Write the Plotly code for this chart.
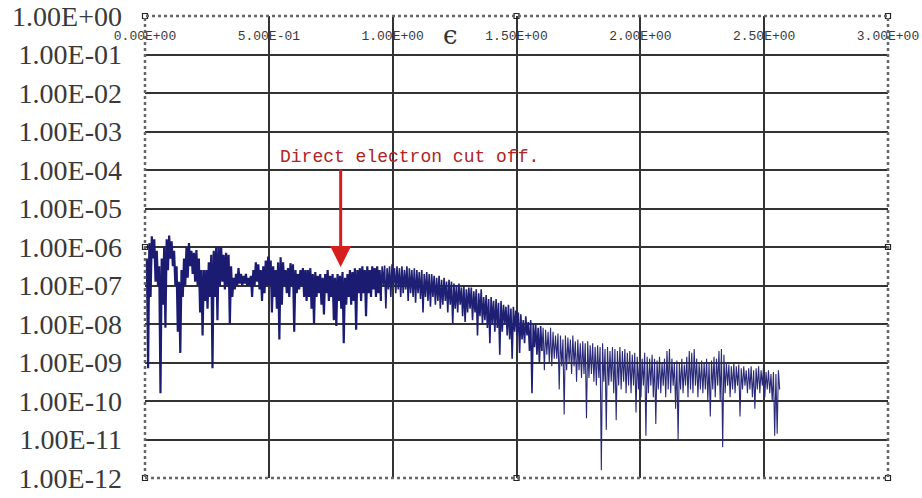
import plotly.graph_objects as go

# ---- data read off the picture (log10 of the signal, sampled every 0.01 in epsilon) ----
# each sample k (epsilon = 0.01*k) holds an upper and a lower excursion of the fast oscillation
HI = [-6.3, -5.9, -5.72, -5.8, -6.1, -6.5, -6.3, -6.0, -5.8, -5.7,
      -5.85, -6.1, -6.5, -6.9, -6.6, -6.3, -6.0, -5.9, -6.1, -6.15,
      -6.08, -6.3, -6.6, -6.6, -6.6, -6.4, -6.2, -6.1, -6.0, -5.98,
      -6.0, -6.2, -6.15, -6.2, -6.5, -6.8, -6.7, -6.55, -6.7, -6.75,
      -6.7, -6.8, -6.75, -6.6, -6.4, -6.45, -6.6, -6.5, -6.35, -6.25,
      -6.35, -6.5, -6.6, -6.4, -6.27, -6.4, -6.6, -6.55, -6.42, -6.45,
      -6.6, -6.7, -6.6, -6.55, -6.6, -6.6, -6.55, -6.7, -6.65, -6.75,
      -6.7, -6.8, -6.7, -6.6, -6.75, -6.7, -6.8, -6.7, -6.75, -6.65,
      -6.8, -6.7, -6.6, -6.65, -6.55, -6.6, -6.55, -6.5, -6.6, -6.5,
      -6.6, -6.5, -6.55, -6.5, -6.6, -6.5, -6.48, -6.55, -6.5, -6.45,
      -6.55, -6.5, -6.55, -6.5, -6.6, -6.5, -6.55, -6.6, -6.55, -6.6,
      -6.65, -6.6, -6.7, -6.65, -6.7, -6.7, -6.75, -6.8, -6.75, -6.85,
      -6.8, -6.9, -6.85, -6.9, -6.95, -7.0, -6.95, -7.05, -7.0, -7.1,
      -7.05, -7.05, -7.15, -7.1, -7.2, -7.1, -7.3, -7.25, -7.35, -7.3,
      -7.4, -7.35, -7.45, -7.4, -7.5, -7.55, -7.5, -7.6, -7.55, -7.65,
      -7.7, -7.75, -7.9, -7.8, -7.95, -7.9, -8.0, -8.0, -8.1, -8.05,
      -8.1, -8.15, -8.2, -8.1, -8.2, -8.3, -8.25, -8.3, -8.4, -8.3,
      -8.35, -8.4, -8.3, -8.45, -8.4, -8.5, -8.45, -8.5, -8.45, -8.55,
      -8.5, -8.6, -8.55, -8.6, -8.5, -8.65, -8.6, -8.7, -8.6, -8.65,
      -8.7, -8.6, -8.7, -8.65, -8.75, -8.7, -8.8, -8.75, -8.85, -8.8,
      -8.9, -8.75, -8.85, -8.9, -8.8, -8.9, -8.95, -8.85, -9.0, -8.9,
      -8.7, -8.65, -8.9, -9.0, -8.95, -9.0, -8.9, -9.05, -8.85, -8.7,
      -8.75, -8.65, -8.9, -9.0, -8.95, -9.0, -8.9, -9.0, -8.95, -8.85,
      -8.9, -8.7, -8.65, -8.8, -9.0, -9.05, -9.1, -9.0, -9.1, -9.05,
      -9.15, -9.1, -9.2, -9.15, -9.1, -9.2, -9.15, -9.1, -9.2, -9.1,
      -9.25, -9.2, -9.3, -9.25, -9.3, -9.2]
LO = [-9.15, -7.3, -6.3, -6.9, -7.0, -9.8, -7.5, -8.1, -6.6, -6.3,
      -6.5, -7.0, -8.2, -8.75, -7.3, -7.0, -6.8, -6.5, -6.7, -6.9,
      -7.0, -7.7, -8.3, -7.4, -7.6, -7.3, -9.15, -7.3, -7.9, -7.0,
      -6.9, -7.1, -7.0, -8.0, -7.3, -7.1, -7.0, -6.95, -7.0, -6.95,
      -7.0, -7.0, -7.3, -7.0, -6.9, -7.1, -7.4, -7.2, -7.0, -7.0,
      -7.7, -7.3, -7.6, -8.4, -7.5, -7.0, -7.2, -7.3, -7.0, -8.2,
      -7.2, -7.1, -7.0, -7.3, -7.4, -7.3, -7.6, -8.0, -7.3, -7.2,
      -7.5, -7.75, -7.2, -7.4, -7.3, -7.9, -8.05, -7.4, -7.6, -8.5,
      -7.5, -7.3, -7.5, -7.4, -8.15, -7.2, -7.4, -7.2, -7.8, -7.2,
      -7.3, -7.1, -7.3, -7.2, -7.4, -7.0, -7.6, -7.1, -7.3, -7.0,
      -7.2, -7.1, -7.3, -7.2, -7.1, -7.4, -7.2, -7.3, -7.45, -7.2,
      -7.35, -7.7, -7.3, -7.4, -7.55, -7.3, -7.5, -7.4, -7.6, -7.5,
      -7.4, -7.7, -7.5, -8.0, -7.6, -7.7, -7.5, -7.8, -7.95, -7.7,
      -7.6, -7.9, -7.7, -8.3, -7.8, -8.0, -7.9, -8.1, -8.5, -8.0,
      -8.2, -8.1, -8.8, -8.2, -8.0, -8.3, -8.4, -8.9, -8.2, -8.3,
      -8.75, -8.4, -8.5, -8.3, -8.7, -9.8, -8.6, -8.8, -9.0, -8.7,
      -9.2, -8.8, -9.0, -9.1, -8.9, -8.9, -9.7, -9.1, -10.35, -9.2,
      -9.0, -9.3, -9.1, -9.5, -9.2, -9.4, -9.3, -10.45, -9.4, -9.3,
      -9.5, -9.6, -9.4, -11.8, -9.5, -10.75, -9.6, -9.5, -9.8, -10.5,
      -9.6, -9.7, -9.5, -9.8, -9.6, -9.8, -9.6, -10.3, -9.7, -9.9,
      -9.6, -10.9, -9.8, -9.6, -9.9, -10.6, -9.7, -9.8, -9.6, -9.9,
      -9.7, -9.8, -9.6, -10.2, -11.0, -9.7, -9.8, -9.6, -9.9, -9.7,
      -9.8, -9.6, -9.9, -9.7, -9.8, -9.7, -10.0, -10.4, -9.7, -9.9,
      -9.6, -10.0, -11.2, -9.8, -9.6, -9.9, -9.7, -9.8, -9.6, -10.4,
      -9.7, -9.6, -9.8, -9.7, -9.9, -10.2, -9.7, -9.8, -9.6, -9.9,
      -9.7, -9.8, -10.0, -10.9, -10.85, -9.7]
SAMPLE_STEP = 0.01
# stroke weight per stretch of epsilon (the oscillation looks solid early on, sparse later)
SEGMENT_BREAKS = [0.95, 1.6]
SEGMENT_WIDTHS = [2.2, 1.6, 1.1]
SEGMENT_COLORS = ["#1b1b72", "#1f1f74", "#2a2a78"]

X_TICKS = [0.0, 0.5, 1.0, 1.5, 2.0, 2.5, 3.0]
X_TICK_TEXT = ["0.00E+00", "5.00E-01", "1.00E+00", "1.50E+00",
               "2.00E+00", "2.50E+00", "3.00E+00"]
Y_EXPONENTS = [0, -1, -2, -3, -4, -5, -6, -7, -8, -9, -10, -11, -12]
Y_TICK_TEXT = ["1.00E+00", "1.00E-01", "1.00E-02", "1.00E-03", "1.00E-04",
               "1.00E-05", "1.00E-06", "1.00E-07", "1.00E-08", "1.00E-09",
               "1.00E-10", "1.00E-11", "1.00E-12"]

# interleave the two excursions of each sample
xs, ys = [], []
for k, (h, l) in enumerate(zip(HI, LO), start=1):
    e = k * SAMPLE_STEP
    xs += [e - SAMPLE_STEP / 4, e + SAMPLE_STEP / 4]
    ys += [10 ** h, 10 ** l]

cuts = [0] + [next(i for i, v in enumerate(xs) if v > b) for b in SEGMENT_BREAKS] + [len(xs) - 1]

fig = go.Figure()
for s in range(len(SEGMENT_WIDTHS)):
    a, b = cuts[s], cuts[s + 1]
    fig.add_trace(go.Scatter(x=xs[a:b + 1], y=ys[a:b + 1], mode="lines",
                             line=dict(color=SEGMENT_COLORS[s], width=SEGMENT_WIDTHS[s]),
                             hoverinfo="skip", showlegend=False))

# chart-frame handles (small squares) as in the spreadsheet screenshot
fig.add_trace(go.Scatter(
    x=[0, 1.5, 3, 0, 3, 0, 1.5, 3],
    y=[1, 1, 1, 1e-6, 1e-6, 1e-12, 1e-12, 1e-12],
    mode="markers", cliponaxis=False, showlegend=False, hoverinfo="skip",
    marker=dict(symbol="square-open", size=5, color="#222",
                line=dict(width=1.2, color="#222"))))

grid_col = "#333333"
fig.update_layout(
    width=922, height=498,
    margin=dict(l=145, r=34, t=16, b=20, autoexpand=False),
    paper_bgcolor="white", plot_bgcolor="white",
    xaxis=dict(range=[0, 3], side="top", tickmode="array", automargin=False,
               tickvals=X_TICKS, ticktext=X_TICK_TEXT,
               ticklabelposition="inside", ticklabeloverflow="allow",
               ticklabelstandoff=12, ticks="",
               tickfont=dict(family="Liberation Mono", size=13, color="#3a3a3a"),
               showgrid=True, gridcolor=grid_col, gridwidth=1.5,
               zeroline=False, showline=False),
    yaxis=dict(type="log", range=[-12, 0], tickmode="array", automargin=False,
               tickvals=[10 ** e for e in Y_EXPONENTS], ticktext=Y_TICK_TEXT,
               ticks="", ticklabelstandoff=22,
               tickfont=dict(family="Liberation Serif", size=28, color="#3a3a3a"),
               showgrid=True, gridcolor=grid_col, gridwidth=1.5,
               zeroline=False, showline=False),
)

# dotted chart frame
fig.add_shape(type="rect", xref="paper", yref="paper", x0=0, y0=0, x1=1, y1=1,
              line=dict(color="#666", width=2.5, dash="dot"), layer="above")

# axis symbol
fig.add_annotation(x=1.235, y=-0.5, text="ϵ", showarrow=False,
                   font=dict(family="DejaVu Serif", size=26, color="#333"))

# cut-off label and arrow
fig.add_annotation(x=0.537, y=-3.66, text="Direct electron cut off.",
                   showarrow=False, xanchor="left",
                   font=dict(family="Liberation Mono", size=18, color="#b02424"))
fig.add_annotation(x=0.79, y=-6.52, ax=0, ay=-99, text="",
                   showarrow=True, arrowhead=2, arrowsize=1.4,
                   arrowwidth=3, arrowcolor="#d61e1e")

fig.write_html("out.html")
